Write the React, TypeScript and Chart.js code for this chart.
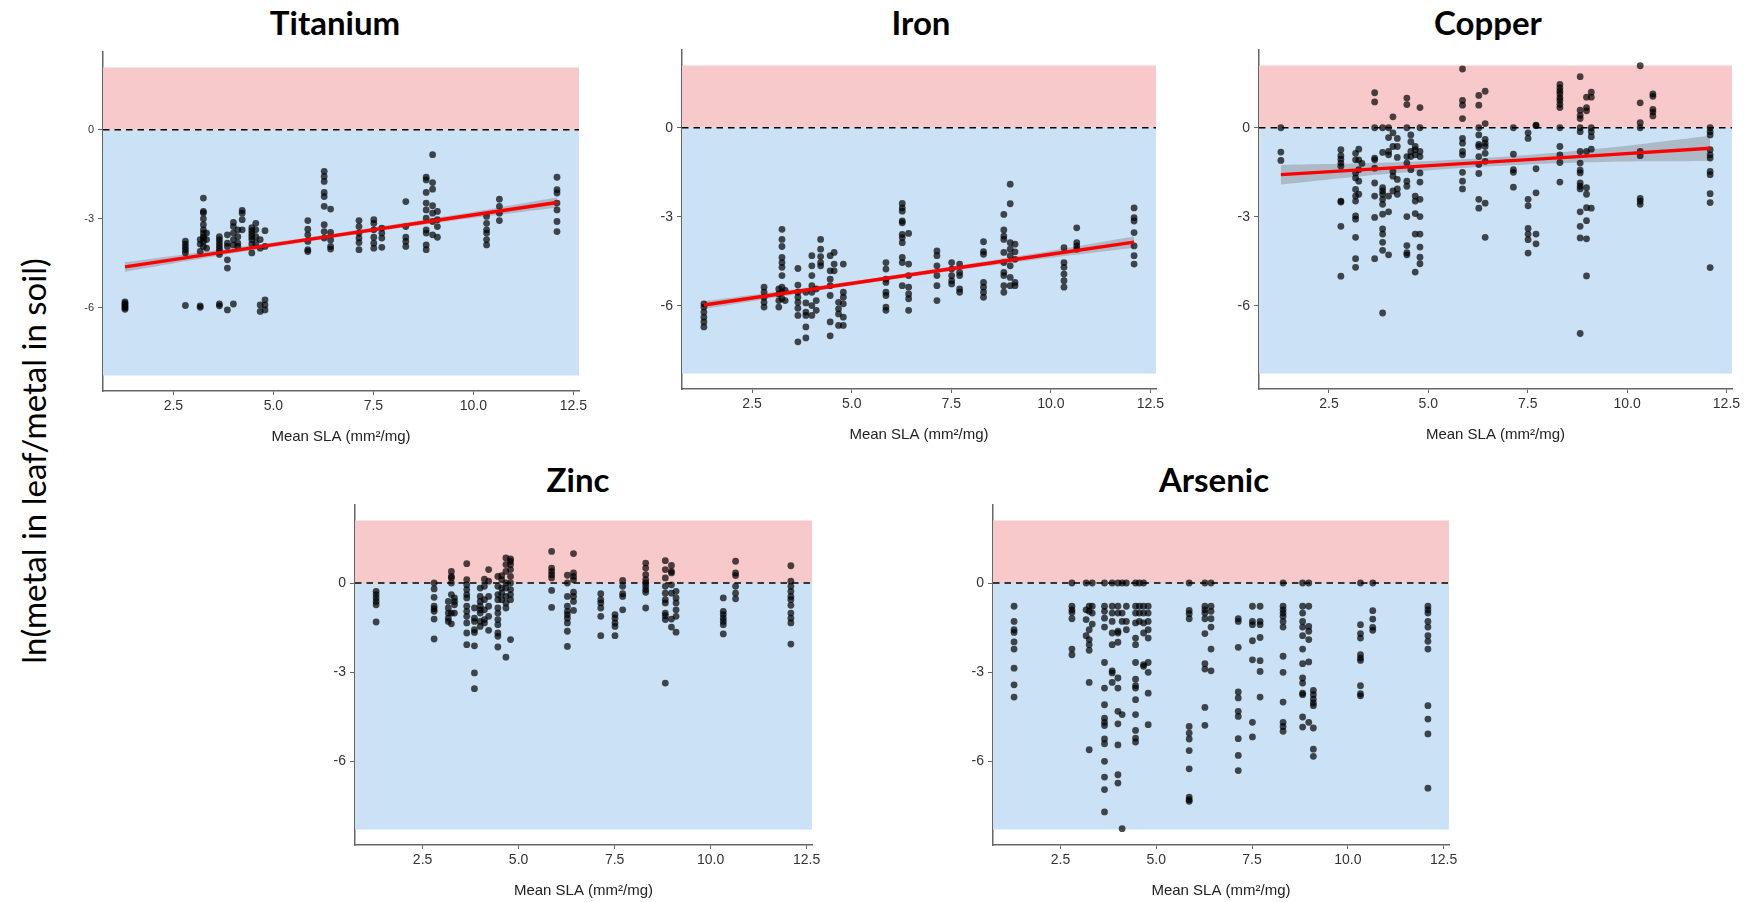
import React, { useEffect, useRef } from "react";
import { Chart, registerables } from "chart.js";

Chart.register(...registerables);

// ---------- data ----------
const SLA = [
  1.29, 2.8, 3.17, 3.25, 3.33, 3.65, 3.85, 4.0, 4.11, 4.22, 4.46, 4.56, 4.67, 4.79,
  5.86, 6.27, 6.43, 7.14, 7.51, 7.71, 8.31, 8.82, 8.98, 9.1, 10.33, 10.65, 12.09,
];
const X_TICKS = [2.5, 5, 7.5, 10, 12.5];
const Y_TICKS = [-6, -3, 0];
const X_MIN = 0.74;
const X_MAX = 12.64;
const Y_MIN = -8.8;
const Y_MAX = 2.62;
const RECT_TOP = 2.1;
const RECT_BOTTOM = -8.28;

const TITANIUM: number[][] = [
  [-5.8, -5.85, -5.9, -5.95, -6.0, -6.05],
  [-3.75, -3.85, -3.95, -4.05, -4.15, -5.92],
  [-3.7, -3.85, -4.1, -5.93, -5.98],
  [-2.3, -2.75, -2.8, -3.0, -3.2, -3.37, -3.48, -3.6, -3.65, -3.76, -3.93],
  [-3.48, -3.7, -3.99],
  [-3.6, -3.7, -3.8, -3.9, -4.0, -4.1, -4.2, -5.87, -5.93],
  [-3.54, -3.82, -3.93, -4.38, -4.66, -6.07],
  [-3.12, -3.26, -3.48, -3.7, -3.88, -5.87],
  [-3.37, -3.6, -3.82, -3.93],
  [-2.72, -2.81, -3.03, -3.37],
  [-3.3, -3.4, -3.5, -3.6, -3.7, -3.85, -4.15],
  [-3.15, -3.37, -3.6, -3.82],
  [-3.7, -3.99, -5.9, -6.12],
  [-3.4, -3.93, -5.73, -5.9, -6.07],
  [-3.06, -3.35, -3.54, -3.76, -4.04, -4.1],
  [-1.4, -1.57, -1.74, -2.11, -2.25, -2.58, -3.2, -3.43, -3.65],
  [-2.67, -3.46, -3.71, -3.93, -4.02],
  [-3.06, -3.26, -3.48, -3.65, -3.8, -4.04],
  [-3.03, -3.15, -3.37, -3.62, -3.82, -3.99],
  [-3.31, -3.48, -3.65, -3.96],
  [-2.42, -3.26, -3.62, -3.76, -3.93],
  [-1.6, -1.69, -2.11, -2.47, -2.7, -2.98, -3.37, -3.48, -3.88, -4.04],
  [-0.84, -1.78, -2.0, -2.56, -2.81, -3.09, -3.54],
  [-2.75, -3.03, -3.26, -3.62],
  [-2.92, -3.15, -3.37, -3.48, -3.7, -3.88],
  [-2.34, -2.58, -2.81, -3.06],
  [-1.6, -2.02, -2.13, -2.47, -2.7, -3.09, -3.43],
];

const IRON: number[][] = [
  [-5.93, -6.04, -6.21, -6.38, -6.54, -6.71],
  [-5.37, -5.54, -5.71, -5.88, -6.04],
  [-5.43, -5.6, -5.82, -6.04],
  [-3.42, -3.76, -4.0, -4.37, -4.54, -4.7, -4.98, -5.37, -5.54, -5.76],
  [-5.48, -5.82],
  [-4.74, -5.3, -5.54, -5.71, -5.88, -6.08, -6.32, -7.21],
  [-5.54, -5.9, -6.21, -6.32, -6.71, -7.08],
  [-4.31, -4.65, -4.98, -5.32, -5.54, -5.99, -6.32],
  [-5.43, -5.82, -6.15],
  [-3.76, -4.09, -4.34, -4.54, -4.65],
  [-4.31, -4.82, -5.1, -5.32, -5.65, -6.54, -7.01],
  [-4.2, -4.59, -4.82],
  [-5.88, -6.1, -6.27, -6.66],
  [-4.59, -5.54, -5.71, -5.93, -6.38, -6.66],
  [-4.54, -4.76, -5.1, -5.21, -5.54, -5.65, -6.04, -6.15],
  [-2.55, -2.7, -2.81, -3.14, -3.2, -3.59, -3.7, -3.87, -4.37, -4.54, -5.32],
  [-3.56, -4.59, -4.98, -5.37, -5.6, -5.76, -6.15],
  [-4.15, -4.31, -4.65, -4.98, -5.32, -5.82],
  [-4.54, -4.76, -4.98, -5.15, -5.26],
  [-4.59, -4.87, -4.98, -5.43, -5.54],
  [-3.84, -4.17, -4.26, -5.21, -5.37, -5.54, -5.71],
  [-2.92, -3.44, -3.65, -3.76, -4.2, -4.54, -4.87, -4.98, -5.32, -5.54],
  [-1.9, -2.56, -3.87, -4.09, -4.31, -4.65, -5.04, -5.32],
  [-3.92, -4.18, -4.43, -5.21, -5.32],
  [-4.04, -4.54, -4.7, -4.93, -5.15, -5.37],
  [-3.37, -3.87, -3.98, -4.09],
  [-2.7, -3.03, -3.14, -3.53, -3.98, -4.31, -4.59],
];

const COPPER: number[][] = [
  [0, -0.82, -1.1],
  [-0.74, -0.94, -1.06, -1.19, -1.3, -2.47, -2.5, -3.32, -5.0],
  [-0.86, -1.08, -1.52, -1.69, -2.08, -2.3, -2.47, -2.97, -3.08, -3.69, -4.41, -4.7],
  [-0.72, -1.08, -1.41, -1.8, -2.24],
  [-1.2],
  [1.18, 0.87, 0, -1.02, -1.08, -1.36, -1.86, -2.3, -3.02, -4.41],
  [0, -0.83, -2.02, -2.13, -2.24, -2.41, -2.58, -2.91, -3.41, -3.58, -3.86, -4.13, -6.24],
  [0, -0.33, -0.8, -0.91, -2.3, -2.83, -4.28],
  [0.37, -0.17, -0.63, -1.47, -1.63, -2.13],
  [-0.36, -0.63, -1.0, -1.74, -2.06, -2.24],
  [1.0, 0.78, 0, -0.97, -1.19, -1.8, -1.97, -2.99, -3.97, -4.21, -4.28],
  [-0.24, -0.47, -0.8, -0.97, -1.41],
  [-0.63, -0.74, -0.91, -2.3, -2.47, -2.89, -3.58, -4.86],
  [0.68, 0, -0.8, -0.97, -1.52, -1.83, -2.41, -2.99, -3.58, -4.02, -4.36, -4.58],
  [1.98, 0.92, 0.76, 0.31, -0.36, -0.52, -0.8, -0.91, -1.5, -1.8, -2.06],
  [1.09, 0.76, 0, -0.24, -0.56, -0.63, -0.97, -1.24, -1.54, -2.41, -2.71],
  [1.23, 0.14, -0.39, -0.52, -0.63, -0.86, -1.13, -2.54, -3.69],
  [0, -0.89, -1.41, -1.5, -2.0],
  [-0.17, -0.36, -2.41, -2.63, -3.39, -3.58, -3.77, -4.22],
  [0.09, 0.07, -1.38, -2.19, -3.58, -3.91],
  [1.46, 1.34, 1.23, 1.14, 1.01, 0.92, 0.79, 0.68, 0, -0.63, -0.91, -1.17, -1.83],
  [1.72, 0.59, 0.42, 0.31, 0, -0.13, -0.8, -1.19, -1.43, -1.52, -1.86, -1.97, -2.06, -2.83, -3.32, -3.71, -6.93],
  [1.03, 0.68, 0.57, -0.8, -2.02, -2.24, -2.69, -3.13, -3.74, -4.99],
  [1.2, 1.03, 0, -0.13, -0.3, -0.72, -2.71],
  [2.09, 0.84, 0.17, 0, -0.8, -0.94, -2.38, -2.47, -2.58],
  [1.14, 1.06, 0.62, 0.53, 0.4],
  [0, -0.13, -0.24, -0.74, -0.91, -1.02, -1.47, -1.58, -2.22, -2.52, -4.71],
];

const ZINC: number[][] = [
  [-0.28, -0.39, -0.5, -0.62, -0.73, -1.31],
  [0, -0.2, -0.48, -0.78, -0.87, -0.95, -1.21, -1.88],
  [-0.62, -0.84, -1.01, -1.18, -1.29],
  [0.39, 0.22, 0.17, 0, -0.39, -1.01, -1.37],
  [-0.5, -0.62, -0.73, -1.01],
  [0.65, 0.11, -0.06, -0.22, -0.39, -0.5, -0.78, -0.95, -1.12, -1.34, -1.68, -2.07],
  [-0.84, -1.18, -1.29, -1.57, -1.66, -2.11, -3.02, -3.55],
  [-0.17, -0.45, -0.62, -0.78, -0.9, -1.01, -1.29, -1.46],
  [0.13, -0.11, -0.56, -0.9, -1.23, -1.34],
  [0.45, 0.06, -0.45, -0.78, -1.12, -1.59],
  [0.22, -0.11, -0.39, -0.56, -0.84, -1.01, -1.23, -1.4, -1.68, -1.79, -2.15],
  [0.25, 0.11, -0.17, -0.34, -0.56],
  [0.84, 0.62, 0.39, 0, -0.17, -0.45, -0.67, -0.84, -2.49],
  [0.81, 0.73, 0.62, 0.45, 0.22, 0, -0.22, -0.39, -0.56, -1.9],
  [1.06, 0.5, 0.39, 0.28, 0.17, -0.25, -0.82],
  [0.26, 0, -0.45, -0.78, -0.95, -1.06, -1.18, -1.34, -1.62, -2.13],
  [0.99, 0.34, 0.22, 0.11, -0.31, -0.45, -0.62, -0.92],
  [-0.36, -0.56, -0.67, -0.84, -1.12, -1.77],
  [-1.06, -1.18, -1.34, -1.46, -1.77],
  [0.09, -0.11, -0.36, -0.45, -0.9],
  [0.67, 0.5, 0.28, 0.11, 0, -0.11, -0.22, -0.31, -0.84],
  [0.75, 0.45, 0.17, -0.11, -0.34, -0.56, -0.67, -1.01, -1.1, -1.23, -3.36],
  [0.59, 0.39, 0.34, -0.06, -0.34, -1.21, -1.48],
  [-0.28, -0.5, -0.67, -0.9, -1.12, -1.65],
  [-0.5, -0.95, -1.06, -1.18, -1.29, -1.4, -1.71],
  [0.73, 0.34, 0.25, -0.11, -0.34, -0.53],
  [0.58, 0.06, -0.11, -0.28, -0.45, -0.56, -0.75, -1.01, -1.18, -1.34, -2.05],
];

const ARSENIC: number[][] = [
  [-0.78, -1.29, -1.57, -1.66, -1.98, -2.22, -2.86, -3.42, -3.83],
  [0, -0.78, -0.9, -0.99, -1.2, -2.22, -2.41],
  [0, -0.9, -1.23, -1.77],
  [-0.78, -0.95, -1.57, -1.9, -2.07, -2.26, -3.34, -5.6],
  [0, -0.78, -1.01, -1.38],
  [0, -0.78, -0.95, -1.18, -1.48, -2.67, -3.53, -4.09, -4.54, -4.68, -4.79, -5.24, -5.4, -5.99, -6.52, -6.94, -7.69],
  [0, -0.78, -1.01, -1.29, -1.68, -2.07, -2.95, -3.02, -3.34],
  [0, -0.78, -1.01, -1.62, -1.68, -1.99, -3.19, -3.53, -4.31, -4.73, -5.44, -6.44, -6.72],
  [0, -1.01, -1.29, -4.42, -8.25],
  [0, -0.78, -1.29, -1.57],
  [0, -0.78, -1.01, -1.34, -1.85, -2.07, -2.67, -3.23, -3.45, -3.53, -3.92, -4.42, -4.95, -5.21, -5.34],
  [0, -0.78, -1.01, -1.29],
  [0, -0.78, -1.01, -1.34, -1.68, -2.74, -2.8],
  [-0.78, -1.01, -1.29, -1.57, -1.85, -2.67, -3.0, -3.7, -4.76],
  [0, -0.92, -1.03, -1.2, -4.82, -5.04, -5.24, -5.63, -6.24, -7.19, -7.28, -7.33],
  [0, -0.78, -0.9, -1.01, -1.2, -1.7, -2.71, -2.89, -4.18, -4.78],
  [0, -0.78, -0.95, -1.2, -1.48, -2.22, -2.95],
  [-1.2, -1.29, -2.16, -3.66, -3.86, -4.31, -4.48, -5.23, -5.79, -6.3],
  [-0.78, -1.29, -1.4, -1.94, -2.58, -4.68, -5.17],
  [-0.78, -1.29, -1.4, -1.83, -2.61, -2.97, -3.83],
  [0, -0.78, -0.9, -1.01, -1.12, -1.29, -1.48, -2.46, -3.0, -4.0, -4.68, -4.82, -4.98],
  [0, -0.78, -1.01, -1.29, -1.48, -1.77, -2.22, -2.71, -3.19, -3.36, -3.7, -3.75, -4.5, -4.84],
  [0, -0.78, -1.46, -1.62, -1.9, -2.65, -4.68],
  [-3.61, -3.75, -3.9, -4.03, -4.12, -4.87, -5.58, -5.82],
  [0, -1.4, -1.7, -1.85, -2.41, -2.52, -2.6, -3.45, -3.72, -3.79],
  [0, -0.93, -1.21, -1.49, -1.59],
  [-0.78, -0.9, -1.01, -1.29, -1.48, -1.77, -1.96, -2.22, -4.12, -4.57, -5.07, -6.89],
];

// fitted lines and their confidence bands
const FIT_X = [1.29, 4.0, 6.69, 9.39, 12.09];
const TITANIUM_FIT = [-4.62, -4.07, -3.53, -2.99, -2.45];
const TITANIUM_LO = [-4.78, -4.16, -3.6, -3.08, -2.62];
const TITANIUM_HI = [-4.46, -3.98, -3.46, -2.9, -2.28];
const IRON_FIT = [-5.97, -5.44, -4.91, -4.38, -3.85];
const IRON_LO = [-6.1, -5.52, -4.98, -4.48, -4.04];
const IRON_HI = [-5.84, -5.36, -4.84, -4.28, -3.66];
const COPPER_FIT = [-1.58, -1.36, -1.14, -0.92, -0.69];
const COPPER_LO = [-1.91, -1.55, -1.29, -1.15, -1.12];
const COPPER_HI = [-1.25, -1.17, -0.99, -0.69, -0.27];

// ---------- styles ----------
const PINK = "rgb(247,201,202)";
const BLUE = "rgb(202,225,246)";
const AXIS_COLOR = "#666";
const TICK_COLOR = "#333";
const TICK_FONT = "'Liberation Sans', Arial, sans-serif";
const TITLE_FONT = "Lato, 'Open Sans', sans-serif";

const Y_AXIS_W = 70;
const X_AXIS_H = 60;
const PAD_TOP = 6;
const PAD_RIGHT = 14;

type Box = { L: number; T: number; R: number; B: number };

type PanelProps = {
  title: string;
  values: number[][];
  fit?: number[];
  lo?: number[];
  hi?: number[];
  box: Box;
  titleX: number;
  titleY: number;
  yTickSize: number;
};

function Panel({ title, values, fit, lo, hi, box, titleX, titleY, yTickSize }: PanelProps) {
  const ref = useRef<HTMLCanvasElement>(null);
  const width = Y_AXIS_W + (box.R - box.L) + PAD_RIGHT;
  const height = PAD_TOP + (box.B - box.T) + X_AXIS_H;

  useEffect(() => {
    if (!ref.current) return;
    const pts = SLA.flatMap((x, i) => values[i].map((y) => ({ x, y })));
    const datasets: any[] = [
      {
        type: "line",
        data: [
          { x: X_MIN, y: RECT_TOP },
          { x: X_MAX, y: RECT_TOP },
        ],
        fill: { value: 0 },
        backgroundColor: PINK,
        borderColor: "rgba(0,0,0,0)",
        borderWidth: 0,
        pointRadius: 0,
        order: 10,
      },
      {
        type: "line",
        data: [
          { x: X_MIN, y: RECT_BOTTOM },
          { x: X_MAX, y: RECT_BOTTOM },
        ],
        fill: { value: 0 },
        backgroundColor: BLUE,
        borderColor: "rgba(0,0,0,0)",
        borderWidth: 0,
        pointRadius: 0,
        order: 9,
      },
    ];
    if (fit && lo && hi) {
      datasets.push(
        {
          type: "line",
          data: FIT_X.map((x, i) => ({ x, y: hi[i] })),
          fill: "+1",
          backgroundColor: "rgba(130,130,130,0.42)",
          borderColor: "rgba(0,0,0,0)",
          borderWidth: 0,
          pointRadius: 0,
          tension: 0.4,
          order: 8,
        },
        {
          type: "line",
          data: FIT_X.map((x, i) => ({ x, y: lo[i] })),
          fill: false,
          borderColor: "rgba(0,0,0,0)",
          borderWidth: 0,
          pointRadius: 0,
          tension: 0.4,
          order: 8,
        }
      );
    }
    datasets.push(
      {
        type: "line",
        data: [
          { x: X_MIN, y: 0 },
          { x: X_MAX, y: 0 },
        ],
        borderColor: "#000",
        borderWidth: 1.6,
        borderDash: [6.5, 5],
        pointRadius: 0,
        fill: false,
        order: 5,
      },
      {
        type: "scatter",
        data: pts,
        pointRadius: 3.4,
        pointHoverRadius: 3.4,
        backgroundColor: "rgba(0,0,0,0.7)",
        borderWidth: 0,
        order: 3,
      }
    );
    if (fit) {
      datasets.push({
        type: "line",
        data: FIT_X.map((x, i) => ({ x, y: fit[i] })),
        borderColor: "#ff0000",
        borderWidth: 3.4,
        pointRadius: 0,
        fill: false,
        order: 1,
      });
    }

    const chart = new Chart(ref.current, {
      type: "scatter",
      data: { datasets },
      options: {
        animation: false,
        responsive: false,
        maintainAspectRatio: false,
        devicePixelRatio: 1,
        events: [],
        layout: { padding: { top: PAD_TOP, right: PAD_RIGHT, left: 0, bottom: 0 } },
        plugins: {
          legend: { display: false },
          tooltip: { enabled: false },
          title: { display: false },
        },
        scales: {
          x: {
            type: "linear",
            min: X_MIN,
            max: X_MAX,
            afterBuildTicks: (s: any) => {
              s.ticks = X_TICKS.map((v) => ({ value: v }));
            },
            afterFit: (s: any) => {
              s.height = X_AXIS_H;
              s.paddingLeft = 0;
              s.paddingRight = 0;
            },
            ticks: {
              callback: (v: any) => Number(v).toFixed(1),
              font: { family: TICK_FONT, size: 14 },
              color: TICK_COLOR,
              padding: 3,
              maxRotation: 0,
              autoSkip: false,
            },
            grid: {
              display: true,
              drawOnChartArea: false,
              drawTicks: true,
              tickLength: 4,
              color: AXIS_COLOR,
            },
            border: { display: true, color: AXIS_COLOR, width: 1.5 },
            title: {
              display: true,
              text: "Mean SLA (mm²/mg)",
              font: { family: TICK_FONT, size: 15 },
              color: "#222",
              padding: { top: 0, bottom: 5 },
            },
          },
          y: {
            type: "linear",
            min: Y_MIN,
            max: Y_MAX,
            afterBuildTicks: (s: any) => {
              s.ticks = Y_TICKS.map((v) => ({ value: v }));
            },
            afterFit: (s: any) => {
              s.width = Y_AXIS_W;
              s.paddingTop = 0;
              s.paddingBottom = 0;
            },
            ticks: {
              callback: (v: any) => String(v),
              font: { family: TICK_FONT, size: yTickSize },
              color: TICK_COLOR,
              padding: 4,
              autoSkip: false,
            },
            grid: {
              display: true,
              drawOnChartArea: false,
              drawTicks: true,
              tickLength: 5,
              color: AXIS_COLOR,
            },
            border: { display: true, color: AXIS_COLOR, width: 1.5 },
          },
        },
      } as any,
    });
    return () => chart.destroy();
  }, []);

  return (
    <>
      <canvas
        ref={ref}
        width={width}
        height={height}
        style={{
          position: "absolute",
          left: box.L - Y_AXIS_W,
          top: box.T - PAD_TOP,
          width,
          height,
        }}
      />
      <div
        style={{
          position: "absolute",
          left: titleX,
          top: titleY - 17,
          transform: "translateX(-50%)",
          fontFamily: TITLE_FONT,
          fontWeight: 700,
          fontSize: 33,
          lineHeight: "33px",
          whiteSpace: "nowrap",
          color: "#000",
        }}
      >
        {title}
      </div>
    </>
  );
}

export default function App() {
  return (
    <div
      style={{
        position: "absolute",
        left: 0,
        top: 0,
        width: 1760,
        height: 902,
        background: "#fff",
        overflow: "hidden",
      }}
    >
      <div
        style={{
          position: "absolute",
          left: 33,
          top: 461,
          transform: "translate(-50%, -50%) rotate(-90deg)",
          fontFamily: TITLE_FONT,
          fontSize: 33,
          lineHeight: "36px",
          whiteSpace: "nowrap",
          color: "#000",
        }}
      >
        ln(metal in leaf/metal in soil)
      </div>
      <Panel
        title="Titanium"
        values={TITANIUM}
        fit={TITANIUM_FIT}
        lo={TITANIUM_LO}
        hi={TITANIUM_HI}
        box={{ L: 103, T: 52, R: 579, B: 391 }}
        titleX={335}
        titleY={23}
        yTickSize={11}
      />
      <Panel
        title="Iron"
        values={IRON}
        fit={IRON_FIT}
        lo={IRON_LO}
        hi={IRON_HI}
        box={{ L: 682, T: 50, R: 1156, B: 389 }}
        titleX={921}
        titleY={23}
        yTickSize={14}
      />
      <Panel
        title="Copper"
        values={COPPER}
        fit={COPPER_FIT}
        lo={COPPER_LO}
        hi={COPPER_HI}
        box={{ L: 1259, T: 50, R: 1732, B: 389 }}
        titleX={1488}
        titleY={23}
        yTickSize={14}
      />
      <Panel
        title="Zinc"
        values={ZINC}
        box={{ L: 355, T: 505, R: 812, B: 845 }}
        titleX={578}
        titleY={480}
        yTickSize={14}
      />
      <Panel
        title="Arsenic"
        values={ARSENIC}
        box={{ L: 993, T: 505, R: 1449, B: 845 }}
        titleX={1214}
        titleY={480}
        yTickSize={14}
      />
    </div>
  );
}
